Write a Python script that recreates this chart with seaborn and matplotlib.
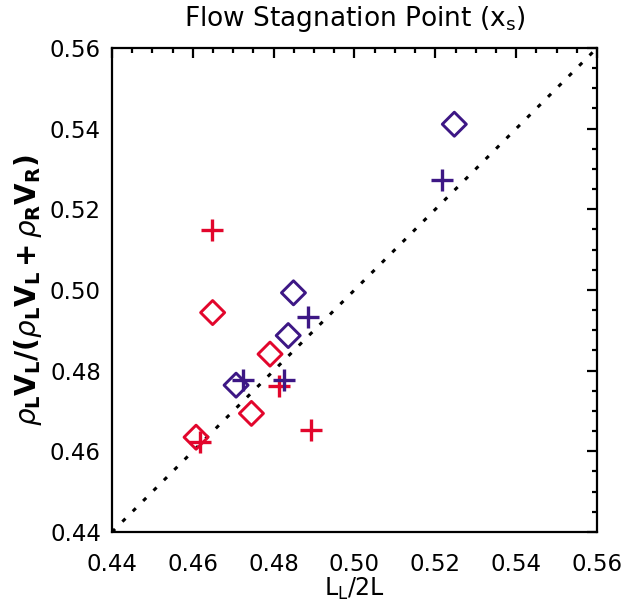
import numpy as np
import pandas as pd
import seaborn as sns
import matplotlib.pyplot as plt
from matplotlib.ticker import MultipleLocator

# data
red_diamond_x = [0.4649, 0.4791, 0.4745, 0.4608]
red_diamond_y = [0.4944, 0.4841, 0.4694, 0.4635]
red_plus_x = [0.4647, 0.4814, 0.4892, 0.4618]
red_plus_y = [0.5149, 0.4762, 0.4653, 0.4624]
purple_diamond_x = [0.5247, 0.4849, 0.4836, 0.4707]
purple_diamond_y = [0.5411, 0.4993, 0.4887, 0.4764]
purple_plus_x = [0.5216, 0.4886, 0.4723, 0.4826]
purple_plus_y = [0.5273, 0.4934, 0.4777, 0.4777]
diag = [0.44, 0.56]

red = '#E2062C'
purple = '#3D1785'

sns.set_style('white')
plt.rcParams['font.family'] = ['DejaVu Sans']
plt.rcParams['mathtext.fontset'] = 'dejavusans'
plt.rcParams['text.color'] = 'black'
plt.rcParams['axes.labelcolor'] = 'black'
plt.rcParams['xtick.color'] = 'black'
plt.rcParams['ytick.color'] = 'black'

fig = plt.figure(figsize=(6.31, 6.02), dpi=100)
ax = fig.add_axes([0.1775, 0.1163, 0.7686, 0.804])

# identity line
sns.lineplot(x=diag, y=diag, ax=ax, color='black', linewidth=2.2,
             linestyle=(0, (1.4, 3.4)), dash_capstyle='butt')

groups = [
    (red_diamond_x, red_diamond_y, red, 'D', 150),
    (red_plus_x, red_plus_y, red, '+', 240),
    (purple_diamond_x, purple_diamond_y, purple, 'D', 150),
    (purple_plus_x, purple_plus_y, purple, '+', 240),
]
for xs, ys, col, mk, size in groups:
    df = pd.DataFrame({'x': xs, 'y': ys})
    if mk == 'D':
        sns.scatterplot(data=df, x='x', y='y', ax=ax, marker=mk, s=size,
                        color=col, facecolor='none', edgecolor=col,
                        linewidth=2.1, zorder=3)
    else:
        sns.scatterplot(data=df, x='x', y='y', ax=ax, marker=mk, s=size,
                        color=col, linewidth=2.4, zorder=3)

ax.set_xlim(0.44, 0.56)
ax.set_ylim(0.44, 0.56)
ax.xaxis.set_major_locator(MultipleLocator(0.02))
ax.yaxis.set_major_locator(MultipleLocator(0.02))
ax.xaxis.set_minor_locator(MultipleLocator(0.005))
ax.yaxis.set_minor_locator(MultipleLocator(0.005))
ax.xaxis.set_major_formatter(plt.FormatStrFormatter('%.2f'))
ax.yaxis.set_major_formatter(plt.FormatStrFormatter('%.2f'))

ax.tick_params(which='both', direction='in', top=True, right=True,
               width=1.6, color='black', labelsize=16.5)
ax.tick_params(which='major', length=7)
ax.tick_params(axis='x', which='major', pad=15)
ax.tick_params(axis='y', which='major', pad=8)
ax.tick_params(which='minor', length=3.5)
for sp in ax.spines.values():
    sp.set_linewidth(1.6)
    sp.set_color('black')

ax.set_title('Flow Stagnation Point (x$_\\mathregular{s}$)', fontsize=19, pad=16)
ax.set_xlabel('L$_\\mathregular{L}$/2L', fontsize=17, labelpad=0)
ax.set_ylabel(r'$\rho_\mathbf{L}\mathbf{V_L/(}\rho_\mathbf{L}\mathbf{V_L+}\rho_\mathbf{R}\mathbf{V_R)}$',
              fontsize=20, labelpad=4)

fig.savefig('out.png', dpi=100)
